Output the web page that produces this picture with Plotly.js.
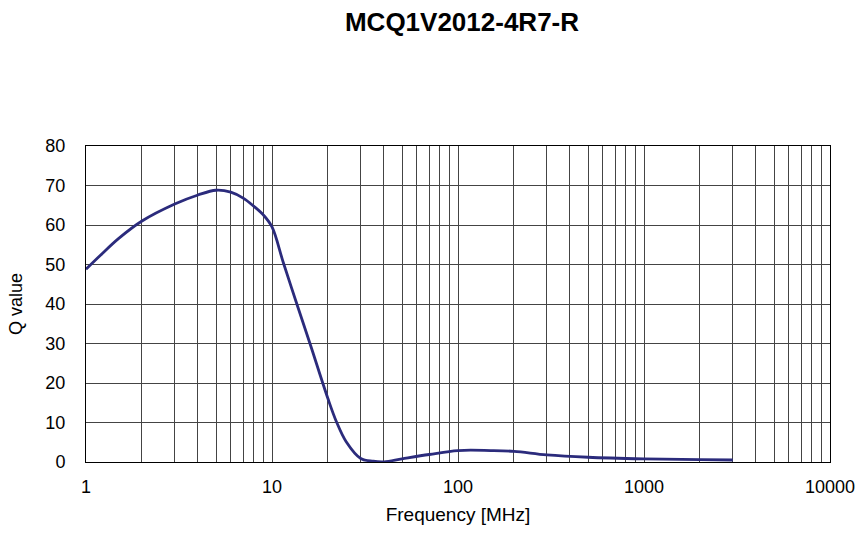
<!DOCTYPE html>
<html><head><meta charset="utf-8">
<script src="https://cdn.plot.ly/plotly-3.0.1.min.js"></script>
<style>body{margin:0;background:#fff}#c{width:860px;height:533px}</style>
</head><body><div id="c"></div>
<script>
const freq = [1, 1.2, 1.5, 2, 3, 4, 5, 6, 7, 8, 9, 10, 11.5, 13.6, 16, 20, 22.2, 25, 30, 35, 40, 50, 70, 100, 150, 200, 300, 500, 1000, 2000, 3000];
const qValue = [48.8, 52.4, 56.6, 61, 65.3, 67.6, 68.8, 68.3, 66.8, 64.7, 62.5, 59.5, 50.5, 40, 30, 16, 10.2, 5.2, 0.9, 0.2, 0.05, 0.8, 1.9, 2.9, 2.9, 2.7, 1.8, 1.2, 0.8, 0.6, 0.5];
const decadeLabels = ["1", "10", "100", "1000", "10000"];

const tv = [], tt = [];
for (let d = 0; d < 4; d++) {
  for (let m = 1; m <= 9; m++) {
    tv.push(m * Math.pow(10, d));
    tt.push(m === 1 ? decadeLabels[d] : "");
  }
}
tv.push(10000); tt.push(decadeLabels[4]);

const trace = {
  x: freq, y: qValue, type: 'scatter', mode: 'lines',
  line: {color: '#2b2b7c', width: 2.8, shape: 'spline', smoothing: 1.0},
  hoverinfo: 'skip'
};
const layout = {
  width: 860, height: 533,
  margin: {l: 86, r: 30, t: 146, b: 71},
  paper_bgcolor: '#fff', plot_bgcolor: '#fff',
  font: {family: 'Liberation Sans, Arial, sans-serif', color: '#000', size: 18},
  title: {text: '<b>MCQ1V2012-4R7-R</b>', x: 462/860, xanchor: 'center', y: 1 - 22/533, yanchor: 'middle', font: {size: 26, color: '#000'}},
  showlegend: false,
  xaxis: {
    type: 'log', range: [0, 4], tickvals: tv, ticktext: tt,
    showgrid: true, gridcolor: '#444', gridwidth: 1,
    showline: true, linecolor: '#000', linewidth: 1, mirror: true,
    ticks: '', tickfont: {size: 18}, zeroline: false, ticklabelstandoff: 8,
    title: {text: 'Frequency [MHz]', font: {size: 19}, standoff: 12}
  },
  yaxis: {
    range: [0, 80], dtick: 10, tick0: 0,
    showgrid: true, gridcolor: '#444', gridwidth: 1,
    showline: true, linecolor: '#000', linewidth: 1, mirror: true,
    ticks: '', tickfont: {size: 18}, zeroline: false, ticklabelstandoff: 16,
    title: {text: 'Q value', font: {size: 18}, standoff: 18}
  }
};
Plotly.newPlot('c', [trace], layout, {displayModeBar: false, staticPlot: true});
</script></body></html>
